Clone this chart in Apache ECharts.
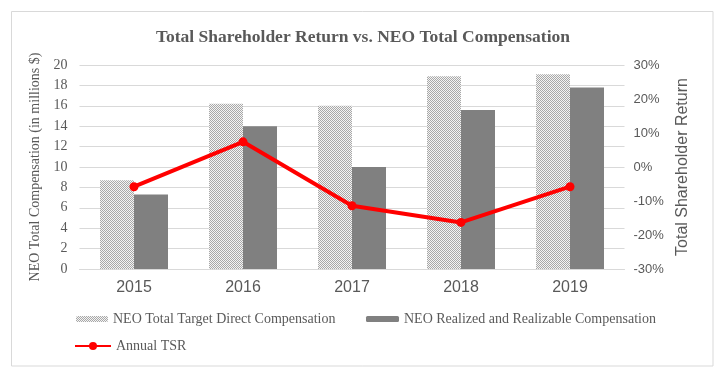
<!DOCTYPE html>
<html>
<head>
<meta charset="utf-8">
<script src="https://cdn.jsdelivr.net/npm/echarts@6/dist/echarts.min.js"></script>
<style>html,body{margin:0;padding:0;background:#fff;}#c{width:726px;height:384px;}</style>
</head>
<body>
<div id="c"></div>
<script>
var years = ['2015', '2016', '2017', '2018', '2019'];
var targetComp = [8.7, 16.2, 16.0, 18.9, 19.1];
var realizedComp = [7.3, 14.0, 10.0, 15.6, 17.8];
var annualTSR = [-5.8, 7.4, -11.4, -16.3, -5.8];
var leftTicks = { min: 0, max: 20, interval: 2 };
var rightTicks = { min: -30, max: 30, interval: 10 };

var cv = document.createElement('canvas');
cv.width = 2; cv.height = 2;
var cx = cv.getContext('2d');
cx.fillStyle = '#f4f4f4'; cx.fillRect(0, 0, 2, 2);
cx.fillStyle = '#a8a8a8';
cx.fillRect(0, 0, 1, 1); cx.fillRect(1, 1, 1, 1);
var hatch = { image: cv, repeat: 'repeat' };

var chart = echarts.init(document.getElementById('c'));
var grey = '#595959';
chart.setOption({
  animation: false,
  backgroundColor: '#fff',
  title: {
    text: 'Total Shareholder Return vs. NEO Total Compensation',
    left: 'center', top: 23,
    textStyle: { fontFamily: 'Liberation Serif', fontWeight: 'bold', fontSize: 17.5, color: grey }
  },
  graphic: [{
    type: 'rect', shape: { x: 11.5, y: 11.5, width: 701.5, height: 354.5 },
    style: { fill: null, stroke: '#d9d9d9', lineWidth: 1 }, silent: true
  }],
  grid: { left: 79.5, right: 101.5, top: 65, bottom: 115, containLabel: false },
  legend: [
    { data: ['NEO Total Target Direct Compensation'], left: 76, top: 312, padding: 0, itemWidth: 32, itemHeight: 6,
      textStyle: { fontFamily: 'Liberation Serif', fontSize: 14, color: grey } },
    { data: ['NEO Realized and Realizable Compensation'], left: 366, top: 312, padding: 0, itemWidth: 33, itemHeight: 6,
      textStyle: { fontFamily: 'Liberation Serif', fontSize: 14, color: grey } },
    { data: ['Annual TSR'], left: 74, top: 339, padding: 0, itemWidth: 36, itemHeight: 10,
      textStyle: { fontFamily: 'Liberation Serif', fontSize: 14, color: grey } }
  ],
  xAxis: {
    type: 'category', data: years,
    axisLine: { lineStyle: { color: '#d9d9d9' } },
    axisTick: { show: false },
    axisLabel: { fontFamily: 'Liberation Sans', fontSize: 16, color: grey, margin: 11 }
  },
  yAxis: [{
    type: 'value', min: leftTicks.min, max: leftTicks.max, interval: leftTicks.interval,
    name: 'NEO Total Compensation (in millions $)', nameLocation: 'middle', nameGap: 27,
    nameTextStyle: { fontFamily: 'Liberation Serif', fontSize: 14, color: grey },
    axisLabel: { fontFamily: 'Liberation Serif', fontSize: 14, color: grey, margin: 12 },
    splitLine: { lineStyle: { color: '#d9d9d9' } },
    axisLine: { show: false }, axisTick: { show: false }
  }, {
    type: 'value', min: rightTicks.min, max: rightTicks.max, interval: rightTicks.interval,
    name: 'Total Shareholder Return', nameLocation: 'middle', nameGap: 50, nameRotate: 90,
    nameTextStyle: { fontFamily: 'Liberation Sans', fontSize: 16, color: grey },
    axisLabel: { formatter: '{value}%', fontFamily: 'Liberation Sans', fontSize: 13, color: grey, margin: 9 },
    splitLine: { show: false }, axisLine: { show: false }, axisTick: { show: false }
  }],
  series: [{
    name: 'NEO Total Target Direct Compensation', type: 'bar', data: targetComp,
    barWidth: 34, barGap: '0%', itemStyle: { color: hatch }
  }, {
    name: 'NEO Realized and Realizable Compensation', type: 'bar', data: realizedComp,
    barWidth: 34, barGap: '0%', itemStyle: { color: '#808080' }
  }, {
    name: 'Annual TSR', type: 'line', yAxisIndex: 1, data: annualTSR,
    symbol: 'circle', symbolSize: 9,
    lineStyle: { color: '#ff0000', width: 4 }, itemStyle: { color: '#ff0000' }
  }]
});
</script>
</body>
</html>
